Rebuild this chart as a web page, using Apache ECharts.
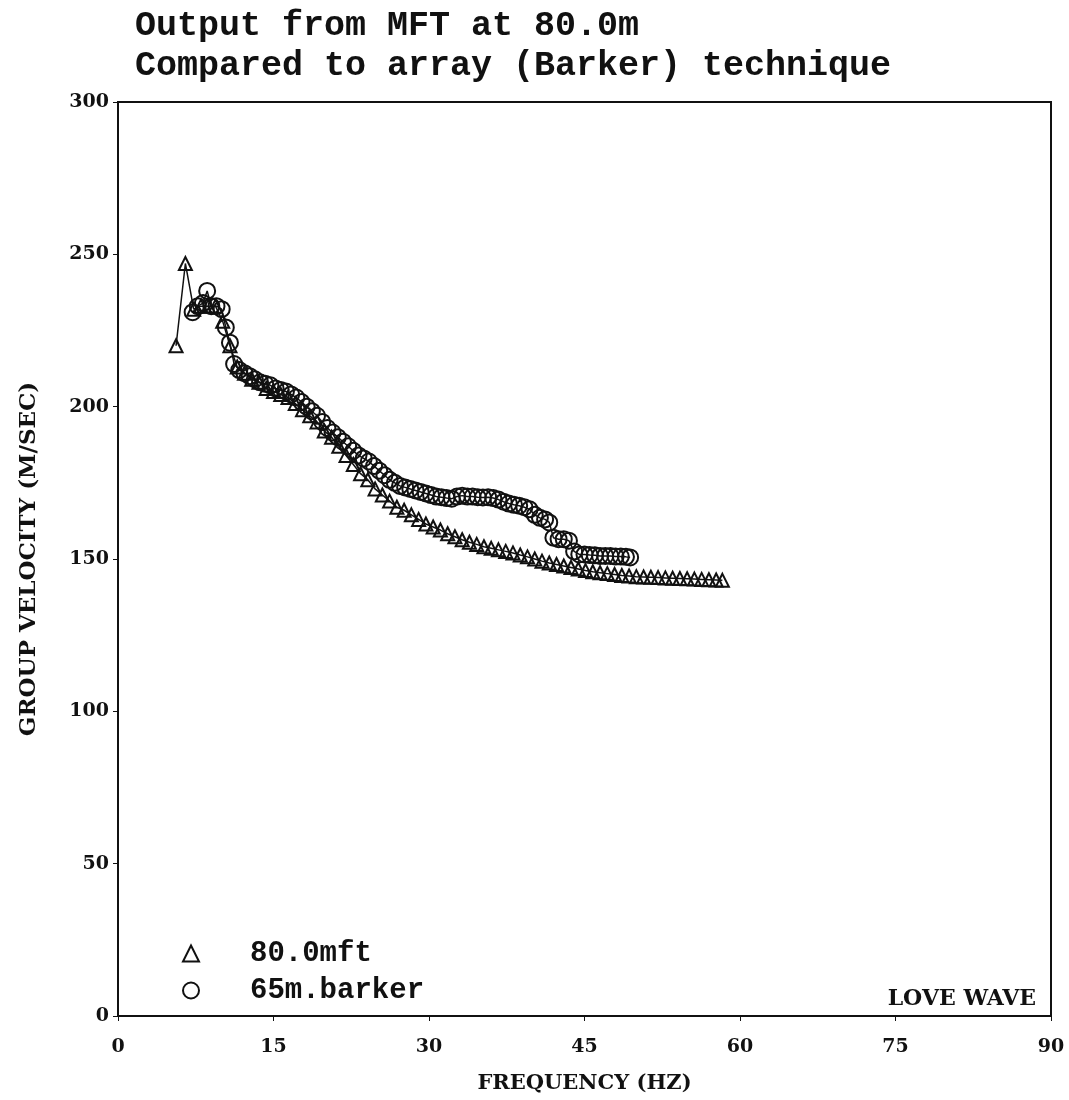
<!DOCTYPE html>
<html>
<head>
<meta charset="utf-8">
<script src="https://cdn.jsdelivr.net/npm/echarts@6/dist/echarts.min.js"></script>
<style>
html,body{margin:0;padding:0;background:#fff;}
#chart{width:1069px;height:1100px;}
</style>
</head>
<body>
<div id="chart"></div>
<script>
// ---- data ----
const titleLines = ['Output from MFT at 80.0m', 'Compared to array (Barker) technique'];
const xTicks = [0, 15, 30, 45, 60, 75, 90];
const yTicks = [0, 50, 100, 150, 200, 250, 300];

const mftFreq = [5.6, 6.5, 7.3, 8.0, 8.7, 9.4, 10.1, 10.8, 11.5, 12.2, 12.9, 13.6, 14.3, 15.0, 15.7, 16.4, 17.1, 17.8, 18.5, 19.2, 19.9, 20.6, 21.3, 22.0, 22.7, 23.4, 24.1, 24.8, 25.5, 26.2, 26.9, 27.6, 28.3, 29.0, 29.7, 30.4, 31.1, 31.8, 32.5, 33.2, 33.9, 34.6, 35.3, 36.0, 36.7, 37.4, 38.1, 38.8, 39.5, 40.2, 40.9, 41.6, 42.3, 43.0, 43.7, 44.4, 45.1, 45.8, 46.5, 47.2, 47.9, 48.6, 49.3, 50.0, 50.7, 51.4, 52.1, 52.8, 53.5, 54.2, 54.9, 55.6, 56.3, 57.0, 57.7, 58.3];
const mftVel = [220, 247, 232, 233, 233, 233, 228, 220, 213, 211, 209, 208, 206, 205, 204, 203, 201, 199, 197, 195, 192, 190, 187, 184, 181, 178, 176, 173, 171, 169, 167, 166, 164.5, 163, 161.5, 160.5, 159.5, 158.3, 157.3, 156.3, 155.5, 154.8, 154, 153.5, 153, 152.5, 152, 151.3, 150.7, 150, 149.3, 148.7, 148.2, 147.7, 147.2, 146.7, 146.2, 145.8, 145.5, 145.2, 144.9, 144.6, 144.4, 144.2, 144.1, 144, 143.9, 143.8, 143.7, 143.6, 143.5, 143.4, 143.3, 143.2, 143.1, 143];

const barkerFreq = [7.2, 7.7, 8.2, 8.6, 9.0, 9.5, 10.0, 10.4, 10.8, 11.2, 11.7, 12.2, 12.7, 13.2, 13.7, 14.2, 14.7, 15.2, 15.7, 16.2, 16.7, 17.2, 17.7, 18.2, 18.7, 19.2, 19.7, 20.2, 20.7, 21.2, 21.7, 22.2, 22.7, 23.2, 23.7, 24.2, 24.7, 25.2, 25.7, 26.2, 26.7, 27.2, 27.7, 28.2, 28.7, 29.2, 29.7, 30.2, 30.7, 31.2, 31.7, 32.2, 32.7, 33.2, 33.7, 34.2, 34.7, 35.2, 35.7, 36.2, 36.7, 37.2, 37.7, 38.2, 38.7, 39.2, 39.7, 40.2, 40.7, 41.2, 41.6, 42.0, 42.5, 43.0, 43.5, 44.0, 44.5, 45.0, 45.5, 46.0, 46.5, 47.0, 47.5, 48.0, 48.5, 49.0, 49.4];
const barkerVel = [231, 233, 234, 238, 233, 233, 232, 226, 221, 214, 212, 211, 210, 209, 208, 207.5, 207, 206, 205.5, 205, 204, 203, 201.5, 200, 198.5, 197, 195, 193, 191.5, 190, 188.5, 187, 185.5, 184, 183, 182, 180.5, 179, 177.5, 176, 175, 174, 173.5, 173, 172.5, 172, 171.5, 171, 170.5, 170.3, 170, 169.8, 170.5, 170.8, 170.5, 170.5, 170.3, 170.2, 170.3, 170, 169.5, 168.8, 168.2, 167.8, 167.5, 167, 166.3, 164.5, 163.5, 163, 162, 157, 156.5, 156.5, 156, 152.5, 151.5, 151.5, 151.3, 151.2, 151, 151, 151, 150.8, 150.8, 150.7, 150.5];

const seriesNames = ['80.0mft', '65m.barker'];
const seriesIcons = ['triangle', 'circle'];

// ---- chart ----
const chart = echarts.init(document.getElementById('chart'), null, {renderer: 'canvas'});
const pair = (xs, ys) => xs.map((x, i) => [x, ys[i]]);
const serif = 'DejaVu Serif';
const mono = 'Liberation Mono';

chart.setOption({
  backgroundColor: '#ffffff',
  animation: false,
  title: {
    text: titleLines.join('\n'),
    left: 130, top: 1,
    textStyle: {fontFamily: mono, fontSize: 35, fontWeight: 'bold', color: '#111', lineHeight: 40}
  },
  legend: {
    orient: 'vertical',
    left: 177, top: 934,
    itemWidth: 16, itemHeight: 16, itemGap: 8,
    data: seriesNames.map((n, i) => ({name: n, icon: seriesIcons[i]})),
    textStyle: {fontFamily: mono, fontSize: 29, fontWeight: 'bold', color: '#111', padding: [0, 0, 0, 46]}
  },
  grid: {left: 118, right: 18, top: 102, bottom: 84, show: true, borderColor: '#111', borderWidth: 2, backgroundColor: 'transparent'},
  xAxis: {
    type: 'value', min: xTicks[0], max: xTicks[xTicks.length - 1], interval: 15,
    name: 'FREQUENCY (HZ)', nameLocation: 'middle', nameGap: 57,
    nameTextStyle: {fontFamily: serif, fontSize: 21, fontWeight: 'bold', color: '#111'},
    axisLine: {lineStyle: {color: '#111', width: 2}},
    axisTick: {length: 5, lineStyle: {color: '#111'}},
    axisLabel: {fontFamily: serif, fontSize: 19, fontWeight: 'bold', color: '#111', margin: 22},
    splitLine: {show: false}
  },
  yAxis: {
    type: 'value', min: yTicks[0], max: yTicks[yTicks.length - 1], interval: 50,
    name: 'GROUP VELOCITY (M/SEC)', nameLocation: 'middle', nameGap: 77, nameRotate: 90,
    nameTextStyle: {fontFamily: serif, fontSize: 23, fontWeight: 'bold', color: '#111'},
    axisLine: {lineStyle: {color: '#111', width: 2}},
    axisTick: {length: 5, lineStyle: {color: '#111'}},
    axisLabel: {fontFamily: serif, fontSize: 19, fontWeight: 'bold', color: '#111', margin: 9},
    splitLine: {show: false}
  },
  graphic: [{
    type: 'text', right: 33, top: 988,
    style: {text: 'LOVE WAVE', fontFamily: serif, fontSize: 22, fontWeight: 'bold', fill: '#111'}
  }],
  series: [
    {
      name: seriesNames[0], type: 'line', data: pair(mftFreq, mftVel),
      symbol: 'triangle', symbolSize: 13,
      lineStyle: {color: '#111', width: 1.5},
      itemStyle: {color: 'rgba(255,255,255,0)', borderColor: '#111', borderWidth: 2}
    },
    {
      name: seriesNames[1], type: 'line', data: pair(barkerFreq, barkerVel),
      symbol: 'circle', symbolSize: 16,
      lineStyle: {color: '#111', width: 1.5},
      itemStyle: {color: 'rgba(255,255,255,0)', borderColor: '#111', borderWidth: 2}
    }
  ]
});
</script>
</body>
</html>
